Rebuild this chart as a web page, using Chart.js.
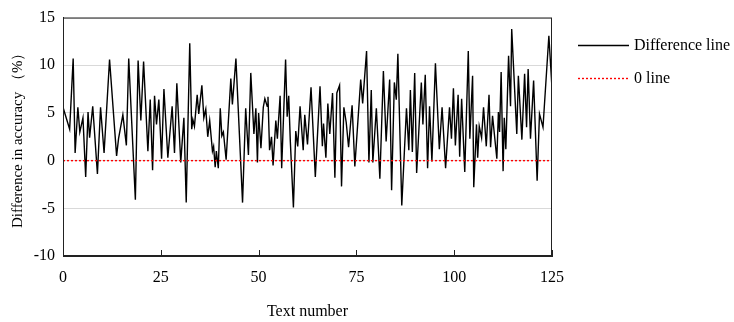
<!DOCTYPE html>
<html>
<head>
<meta charset="utf-8">
<script src="https://cdn.jsdelivr.net/npm/chart.js@4.4.0/dist/chart.umd.min.js"></script>
<style>
  html, body { margin: 0; padding: 0; background: #fff; }
  #wrap { width: 734px; height: 322px; }
</style>
</head>
<body>
<div id="wrap"><canvas id="mycanvas" width="734" height="322"></canvas></div>
<script>
// text number (x) and difference in accuracy (%)
var textNo = [0,1.7,2.6,3.1,3.8,4.3,5.1,5.8,6.4,6.8,
  7.6,8.8,9.6,10.5,11.9,13.7,14.2,15.3,16.2,16.8,
  18.5,19.2,19.9,20.6,21.7,22.3,22.9,23.4,23.9,24.5,
  25.2,25.8,26.8,27.9,28.5,29.1,30.1,30.9,31.5,32.4,
  32.9,33.2,33.6,34.3,34.7,35.5,36.0,36.5,37.0,37.5,
  38.2,38.5,38.9,39.2,39.7,40.2,40.6,41.0,41.7,42.9,
  43.3,44.2,45.9,46.7,47.4,48.0,48.8,49.3,49.7,50.0,
  50.6,51.2,51.6,52.2,52.4,52.8,53.3,53.7,54.4,54.8,
  55.5,55.9,56.9,57.3,57.7,58.1,58.9,59.5,60.0,60.6,
  61.4,61.8,62.5,63.4,64.5,65.7,66.3,66.6,67.2,67.7,
  68.2,68.9,69.5,70.0,70.7,71.2,71.8,72.4,73.0,73.9,
  74.6,76.1,76.6,77.6,78.2,78.8,79.2,80.1,81.0,81.9,
  82.6,83.5,84.0,84.7,85.2,85.6,86.6,87.8,88.4,88.8,
  89.3,89.9,90.4,91.6,92.0,92.6,93.2,93.7,94.3,95.2,
  96.2,96.9,97.8,98.8,99.3,99.8,100.3,101.0,101.4,101.9,
  102.7,103.6,104.0,104.7,105.0,105.7,106.0,106.4,107.0,107.5,
  108.2,108.9,109.3,109.8,110.9,111.3,111.6,112.0,112.5,112.8,
  113.2,113.9,114.4,114.7,116.0,116.4,117.3,118.0,118.5,118.9,
  119.5,120.3,121.2,121.8,122.7,124.2,125];

var accDiff = [5.6,3.3,10.7,0.8,5.6,3.0,4.5,-1.7,5.1,2.4,
  5.7,-1.4,5.6,0.8,10.6,0.5,2.3,4.8,1.6,10.7,
  -4.1,10.5,4.2,10.4,1.0,6.4,-1.0,6.8,3.8,6.4,
  0.2,7.5,0.3,5.7,0.8,8.1,-0.2,4.5,-4.4,12.3,
  3.3,4.3,3.6,6.9,4.9,7.9,4.5,5.4,2.5,4.2,
  1.0,1.5,-0.7,1.0,-0.8,5.5,2.6,3.0,0.1,8.6,
  5.9,10.7,-4.4,5.5,0.6,9.2,2.8,5.5,-0.2,5.0,
  1.3,5.6,6.5,5.7,6.7,1.1,2.5,-0.5,4.2,2.3,
  6.8,-0.8,10.6,4.6,6.8,2.1,-4.9,3.1,1.5,5.7,
  1.1,4.8,1.7,7.7,-1.7,7.8,1.5,3.9,0.3,6.0,
  2.8,7.1,-1.8,7.1,7.9,-2.7,5.6,4.0,1.4,5.8,
  -0.6,8.5,6.0,11.5,-0.2,7.4,-0.2,5.5,-1.9,9.4,
  2.0,8.5,-3.1,8.2,6.4,11.2,-4.7,5.5,1.1,7.4,
  0.9,9.2,-1.3,8.2,3.8,9.0,-0.8,5.7,-0.1,10.2,
  1.2,5.6,-0.8,5.6,2.3,7.6,1.6,6.9,0.4,6.5,
  -1.2,11.5,2.3,8.9,-2.8,3.8,0.3,3.6,2.4,5.6,
  1.5,6.9,1.4,4.7,0.2,5.1,3.0,9.3,-1.1,4.5,
  1.2,11.0,5.7,13.8,2.8,8.9,2.2,9.1,3.5,9.6,
  2.3,8.4,-2.1,4.9,3.5,13.1,7.6];

var zeroX = [0, 125];
var zeroY = [0, 0];

var xTicks = [0, 25, 50, 75, 100, 125];
var yTicks = [-10, -5, 0, 5, 10, 15];

var seriesNames = ['Difference line', '0 line'];

var FONT = '"Liberation Serif", "Times New Roman", serif';

var diffPts = [];
for (var i = 0; i < textNo.length; i++) {
  diffPts.push({x: textNo[i], y: accDiff[i]});
}
var zeroPts = [];
for (var j = 0; j < zeroX.length; j++) {
  zeroPts.push({x: zeroX[j], y: zeroY[j]});
}

// frame, inner x ticks and the legend on the right
var extras = {
  id: 'extras',
  afterDraw: function(chart) {
    var ctx = chart.ctx, a = chart.chartArea;
    var xs = chart.scales.x;
    ctx.save();
    ctx.strokeStyle = '#222';
    ctx.lineWidth = 1;
    ctx.strokeRect(a.left + 0.5, a.top + 0.5, a.right - a.left - 1, a.bottom - a.top - 1);
    ctx.beginPath();
    xTicks.forEach(function(v) {
      var px = Math.round(xs.getPixelForValue(v)) + 0.5;
      ctx.moveTo(px, a.bottom);
      ctx.lineTo(px, a.bottom - 6);
    });
    ctx.stroke();

    var lx = 578, lw = 51, rows = [45, 78];
    chart.data.datasets.forEach(function(ds, k) {
      var y = rows[k] + 0.5;
      ctx.beginPath();
      ctx.strokeStyle = ds.borderColor;
      ctx.lineWidth = ds.borderWidth;
      ctx.setLineDash(ds.borderDash || []);
      ctx.moveTo(lx, y);
      ctx.lineTo(lx + lw, y);
      ctx.stroke();
      ctx.setLineDash([]);
      ctx.fillStyle = '#000';
      ctx.font = '16px ' + FONT;
      ctx.textBaseline = 'middle';
      ctx.textAlign = 'left';
      ctx.fillText(ds.label, lx + lw + 5, rows[k] + 1);
    });
    ctx.restore();
  }
};

var ctx = document.getElementById('mycanvas');

var lineGraph = new Chart(ctx, {
  type: 'line',
  data: {
    datasets: [
      {
        label: seriesNames[0],
        data: diffPts,
        borderColor: '#000000',
        borderWidth: 1.4,
        pointRadius: 0,
        tension: 0,
        fill: false,
        order: 1
      },
      {
        label: seriesNames[1],
        data: zeroPts,
        borderColor: '#ff0000',
        borderWidth: 1.4,
        borderDash: [2, 2],
        pointRadius: 0,
        fill: false,
        order: 0
      }
    ]
  },
  options: {
    responsive: false,
    animation: false,
    layout: { padding: { left: 0, right: 182, top: 16, bottom: 0 } },
    plugins: {
      legend: { display: false },
      tooltip: { enabled: false }
    },
    scales: {
      x: {
        type: 'linear',
        min: 0,
        max: 125,
        afterFit: function(s) { s.height = 66; },
        afterBuildTicks: function(s) { s.ticks = xTicks.map(function(v) { return {value: v}; }); },
        grid: { display: false, drawTicks: false },
        border: { display: true, color: '#222' },
        ticks: { padding: 12, color: '#000', font: { family: FONT, size: 16 } },
        title: {
          display: true,
          text: 'Text number',
          color: '#000',
          font: { family: FONT, size: 16 },
          padding: { top: 0, bottom: 1 }
        }
      },
      y: {
        min: -10,
        max: 15,
        afterFit: function(s) { s.width = 63; },
        afterBuildTicks: function(s) { s.ticks = yTicks.map(function(v) { return {value: v}; }); },
        grid: { color: '#d9d9d9', lineWidth: 1, drawTicks: false },
        border: { display: true, color: '#222' },
        ticks: { padding: 8, color: '#000', font: { family: FONT, size: 16 } },
        title: {
          display: true,
          text: 'Difference in accuracy （%）',
          color: '#000',
          font: { family: FONT, size: 15 },
          padding: { top: 9, bottom: 0 }
        }
      }
    }
  },
  plugins: [extras]
});
</script>
</body>
</html>
